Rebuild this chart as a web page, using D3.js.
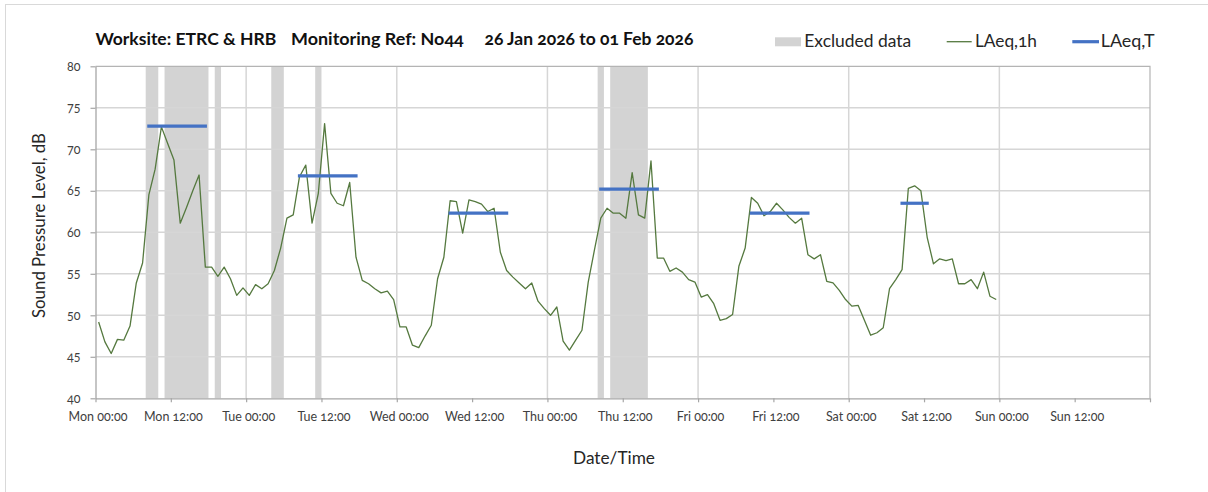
<!DOCTYPE html>
<html><head><meta charset="utf-8">
<script src="https://cdn.jsdelivr.net/npm/d3@7"></script>
<style>
body{margin:0;background:#fff;}
svg{display:block;font-family:Lato,"Open Sans",sans-serif;font-variant-numeric:oldstyle-nums;font-feature-settings:"onum" 1;}
</style>
</head><body>
<svg id="chart" width="1208" height="492"></svg>
<script>
// ---------------- DATA ----------------
const seriesStart = "2026-01-26T00:00";   // first hourly LAeq,1h period
const laeq1h = [
  // Mon 26 Jan
  49.2, 46.8, 45.4, 47.1, 47.0, 48.7, 53.9, 56.3, 64.5, 67.6, 72.7, 70.7,
  68.7, 61.1, 63.0, 65.0, 66.9, 55.8, 55.8, 54.7, 55.8, 54.4, 52.4, 53.3,
  // Tue 27 Jan
  52.4, 53.7, 53.2, 53.8, 55.4, 58.1, 61.7, 62.1, 66.7, 68.1, 61.1, 64.7,
  73.1, 64.7, 63.5, 63.2, 66.0, 57.0, 54.2, 53.8, 53.2, 52.7, 52.9, 51.9,
  // Wed 28 Jan
  48.6, 48.6, 46.4, 46.1, 47.5, 48.8, 54.4, 57.0, 63.8, 63.7, 59.9, 63.9,
  63.7, 63.4, 62.5, 62.9, 57.6, 55.4, 54.6, 53.9, 53.2, 53.9, 51.7, 50.8,
  // Thu 29 Jan
  50.0, 51.0, 46.9, 45.8, 47.0, 48.2, 54.0, 57.9, 61.7, 62.9, 62.3, 62.3,
  61.7, 67.2, 62.1, 61.7, 68.6, 56.9, 56.9, 55.3, 55.7, 55.2, 54.3, 54.0,
  // Fri 30 Jan
  52.2, 52.5, 51.4, 49.4, 49.6, 50.1, 55.9, 58.1, 64.2, 63.5, 62.0, 62.5,
  63.5, 62.7, 61.8, 61.1, 61.7, 57.3, 56.8, 57.3, 54.1, 53.9, 53.0, 51.9,
  // Sat 31 Jan
  51.1, 51.2, 49.4, 47.6, 47.9, 48.5, 53.2, 54.3, 55.5, 65.3, 65.6, 65.0,
  59.4, 56.2, 56.8, 56.6, 56.8, 53.8, 53.8, 54.3, 53.2, 55.2, 52.3, 51.9
];
const excludedStart = ["2026-01-26T08:00","2026-01-26T11:00","2026-01-26T19:00","2026-01-27T04:00","2026-01-27T11:00","2026-01-29T08:00","2026-01-29T10:00"];
const excludedEnd   = ["2026-01-26T10:00","2026-01-26T18:00","2026-01-26T20:00","2026-01-27T06:00","2026-01-27T12:00","2026-01-29T09:00","2026-01-29T16:00"];
const laeqTStart  = ["2026-01-26T08:00","2026-01-27T08:00","2026-01-28T08:00","2026-01-29T08:00","2026-01-30T08:00","2026-01-31T08:00"];
const laeqTEnd    = ["2026-01-26T18:00","2026-01-27T18:00","2026-01-28T18:00","2026-01-29T18:00","2026-01-30T18:00","2026-01-31T13:00"];
const laeqTValues = [72.8, 66.8, 62.3, 65.2, 62.3, 63.5];
const yTicks = [40, 45, 50, 55, 60, 65, 70, 75, 80];
const xDomainText = ["2026-01-26T00:00", "2026-02-02T00:00"];
const titleParts = ["Worksite: ETRC & HRB", "Monitoring Ref: No44", "26 Jan 2026 to 01 Feb 2026"];
const legendLabels = ["Excluded data", "LAeq,1h", "LAeq,T"];
const xTitle = "Date/Time";
const yTitle = "Sound Pressure Level, dB";

// ---------------- LAYOUT ----------------
const parse = d3.timeParse("%Y-%m-%dT%H:%M");
const t0 = parse(seriesStart);
const L = 95.5, R = 1150, T = 66.3, B = 398.3;
const svg = d3.select("#chart");

const x = d3.scaleTime().domain(xDomainText.map(parse)).range([L, R]);
const y = d3.scaleLinear().domain([40, 80]).range([B, T]);

const bandColor = "#d3d3d3", gridColor = "#d6d6d6", axisColor = "#a6a6a6";
const greenColor = "#55793f", blueColor = "#4472c4", textColor = "#404040";

function fitWidth(sel, target) {
  const w = sel.node().getComputedTextLength();
  const fs = parseFloat(sel.attr("font-size"));
  if (w > 0) sel.attr("font-size", (fs * target / w).toFixed(2));
  return sel;
}

// outer frame
svg.append("rect").attr("x", 5.5).attr("y", 4.5).attr("width", 1230).attr("height", 520)
  .attr("fill", "#fff").attr("stroke", "#d9d9d9").attr("stroke-width", 1);

// excluded bands
svg.append("g").selectAll("rect").data(excludedStart.map((s, i) => [parse(s), parse(excludedEnd[i])]))
  .join("rect")
  .attr("x", d => x(d[0])).attr("width", d => x(d[1]) - x(d[0]))
  .attr("y", T).attr("height", B - T).attr("fill", bandColor);

// gridlines
const hGrid = yTicks.filter(v => v > 40 && v < 80);
svg.append("g").selectAll("line").data(hGrid).join("line")
  .attr("x1", L).attr("x2", R).attr("y1", d => y(d)).attr("y2", d => y(d))
  .attr("stroke", gridColor).attr("stroke-width", 1.5);
const dayTicks = d3.timeDay.range(d3.timeDay.offset(x.domain()[0], 1), x.domain()[1]);
svg.append("g").selectAll("line").data(dayTicks).join("line")
  .attr("x1", d => x(d)).attr("x2", d => x(d)).attr("y1", T).attr("y2", B)
  .attr("stroke", gridColor).attr("stroke-width", 1.5);

// plot border top/right
svg.append("path").attr("d", `M${L},${T}H${R}V${B}`).attr("fill", "none")
  .attr("stroke", "#b4b4b4").attr("stroke-width", 1.2);

// x axis
const xTickVals = d3.timeHour.every(12).range(x.domain()[0], d3.timeHour.offset(x.domain()[1], 1));
const xAxis = svg.append("g").attr("transform", `translate(0,${B})`)
  .call(d3.axisBottom(x).tickValues(xTickVals).tickSize(4).tickSizeOuter(0).tickPadding(10)
    .tickFormat((d, i) => i === xTickVals.length - 1 ? "" : d3.timeFormat("%a %H:%M")(d)));
xAxis.select(".domain").attr("stroke", axisColor).attr("stroke-width", 1.3);
xAxis.selectAll(".tick line").attr("stroke", axisColor).attr("stroke-width", 1.2);
xAxis.selectAll(".tick text").attr("font-size", 12.5).attr("fill", textColor)
  .attr("font-family", "Lato, sans-serif").attr("dx", 2);

// y axis
const yAxis = svg.append("g").attr("transform", `translate(${L},0)`)
  .call(d3.axisLeft(y).tickValues(yTicks).tickSize(5).tickSizeOuter(0).tickPadding(10));
yAxis.select(".domain").attr("stroke", axisColor).attr("stroke-width", 1.3);
yAxis.selectAll(".tick line").attr("stroke", axisColor).attr("stroke-width", 1.2);
yAxis.selectAll(".tick text").attr("font-size", 12.5).attr("fill", textColor)
  .attr("font-family", "Lato, sans-serif");

// LAeq,1h line
const pts = laeq1h.map((v, i) => ({ t: d3.timeMinute.offset(d3.timeHour.offset(t0, i), 30), v }));
svg.append("path").datum(pts)
  .attr("d", d3.line().x(d => x(d.t)).y(d => y(d.v)))
  .attr("fill", "none").attr("stroke", greenColor).attr("stroke-width", 1.3)
  .attr("stroke-linejoin", "round");

// LAeq,T lines
svg.append("g").selectAll("line").data(laeqTValues.map((v, i) => ({
    a: d3.timeMinute.offset(parse(laeqTStart[i]), 30),
    b: d3.timeMinute.offset(parse(laeqTEnd[i]), -30), v })))
  .join("line")
  .attr("x1", d => x(d.a)).attr("x2", d => x(d.b))
  .attr("y1", d => y(d.v)).attr("y2", d => y(d.v))
  .attr("stroke", blueColor).attr("stroke-width", 3.2).attr("stroke-linecap", "square");

// title
const titleX = [95.4, 291, 484.5], titleW = [181, 173, 209];
titleParts.forEach((s, i) => {
  const t = svg.append("text").attr("x", titleX[i]).attr("y", 45).attr("font-size", 15)
    .attr("font-weight", "bold").attr("fill", "#111").text(s);
  fitWidth(t, titleW[i]);
});

// legend
const lg = svg.append("g");
lg.append("rect").attr("x", 775).attr("y", 37.3).attr("width", 26).attr("height", 9).attr("fill", bandColor);
lg.append("line").attr("x1", 946.7).attr("x2", 971.7).attr("y1", 41.7).attr("y2", 41.7)
  .attr("stroke", greenColor).attr("stroke-width", 1.3);
lg.append("line").attr("x1", 1072.3).attr("x2", 1099).attr("y1", 41.7).attr("y2", 41.7)
  .attr("stroke", blueColor).attr("stroke-width", 3.2);
const legX = [804.3, 975, 1100.7], legW = [107, 62, 54];
legendLabels.forEach((s, i) => {
  const t = lg.append("text").attr("x", legX[i]).attr("y", 47).attr("font-size", 15)
    .attr("fill", "#262626").text(s);
  fitWidth(t, legW[i]);
});

// axis titles
const xt = svg.append("text").attr("x", 614).attr("y", 464).attr("text-anchor", "middle")
  .attr("font-size", 15).attr("fill", "#262626").text(xTitle);
fitWidth(xt, 82);
const yt = svg.append("text").attr("transform", "translate(45,225.5) rotate(-90)")
  .attr("text-anchor", "middle").attr("font-size", 15).attr("fill", "#262626").text(yTitle);
fitWidth(yt, 185);
</script>
</body></html>
